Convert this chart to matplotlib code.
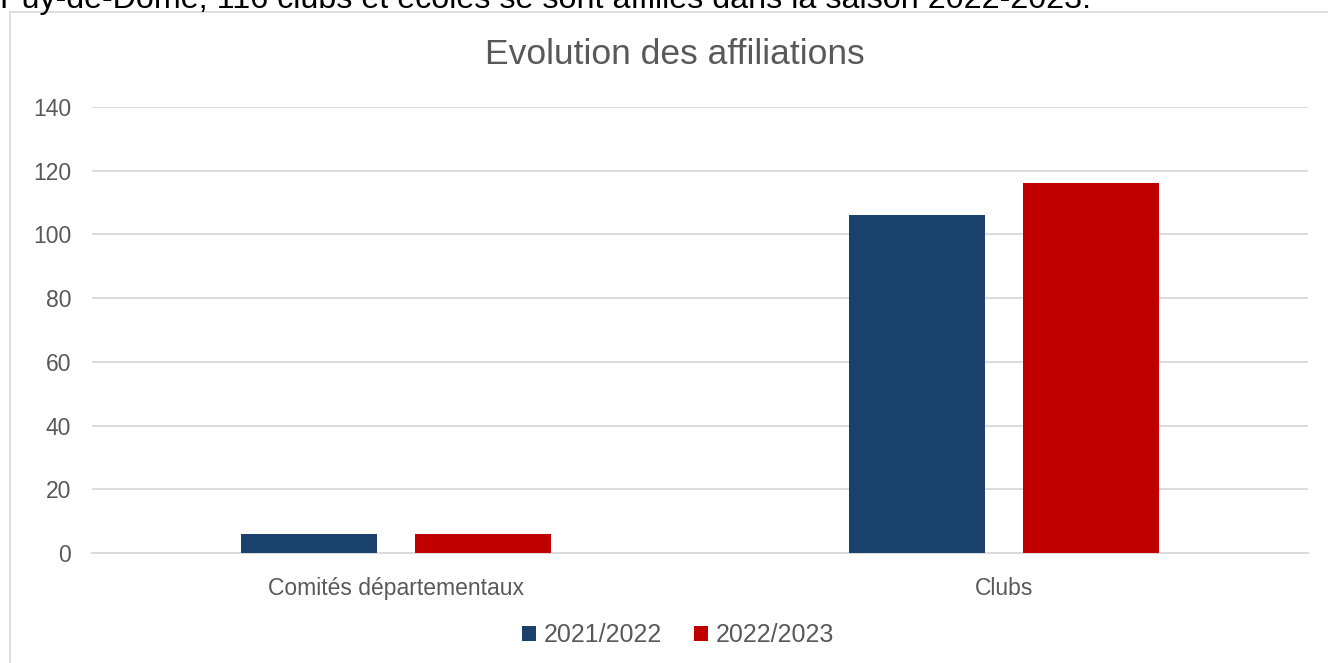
import numpy as np
import matplotlib.pyplot as plt
from matplotlib.patches import Rectangle

# Data
categories = ['Comités départementaux', 'Clubs']
series_names = ['2021/2022', '2022/2023']
values_2122 = [6, 106]
values_2223 = [6, 116]
y_ticks = [0, 20, 40, 60, 80, 100, 120, 140]

title = 'Evolution des affiliations'
top_text = 'Puy-de-Dôme, 116 clubs et écoles se sont affiliés dans la saison 2022-2023.'

BLUE = '#1a406c'
RED = '#c00000'
GREY_TXT = '#595959'
GRID = '#d9d9d9'

plt.rcParams['font.family'] = ['Liberation Sans', 'DejaVu Sans']

W, H = 1328, 663
fig = plt.figure(figsize=(W / 100, H / 100), dpi=100)

# Text of the document, cut off at the top (as in the source page)
fig.text(0.0, 1 - 8 / H, top_text, fontsize=23.2, color='black', ha='left', va='baseline')

# Chart frame
fig.patches.append(Rectangle((10 / W, -0.1), 1.2, (H - 12) / H + 0.1, transform=fig.transFigure,
                             facecolor='white', edgecolor=GRID, linewidth=1.2, zorder=-1))

ax = fig.add_axes([92 / W, (H - 553) / H, (1308 - 92) / W, (553 - 107) / H])
ax.set_facecolor('none')

x = np.arange(len(categories))
bar_w = 0.224
offset = 0.1425
ax.bar(x - offset, values_2122, bar_w, color=BLUE, label=series_names[0], zorder=3)
ax.bar(x + offset, values_2223, bar_w, color=RED, label=series_names[1], zorder=3)

ax.set_xlim(-0.5, 1.5)
ax.set_ylim(0, 140)
ax.set_yticks(y_ticks)
ax.set_xticks(x)
ax.set_xticklabels(categories)
ax.yaxis.grid(True, color=GRID, linewidth=1.3, zorder=0)
ax.tick_params(axis='both', length=0, labelsize=16.5, labelcolor=GREY_TXT)
ax.tick_params(axis='y', pad=15)
ax.tick_params(axis='x', pad=17)
for s in ['top', 'right', 'left']:
    ax.spines[s].set_visible(False)
ax.spines['bottom'].set_color(GRID)
ax.spines['bottom'].set_linewidth(1.3)

fig.text(675 / W, 1 - 55 / H, title, fontsize=25.5, color=GREY_TXT, ha='center', va='center')

leg = fig.legend(loc='center', bbox_to_anchor=(678 / W, 1 - 635 / H), ncol=2, frameon=False,
                 fontsize=18, handlelength=0.55, handleheight=0.55, handletextpad=0.3,
                 columnspacing=1.3, labelcolor=GREY_TXT)

plt.savefig('out.png', dpi=100)
